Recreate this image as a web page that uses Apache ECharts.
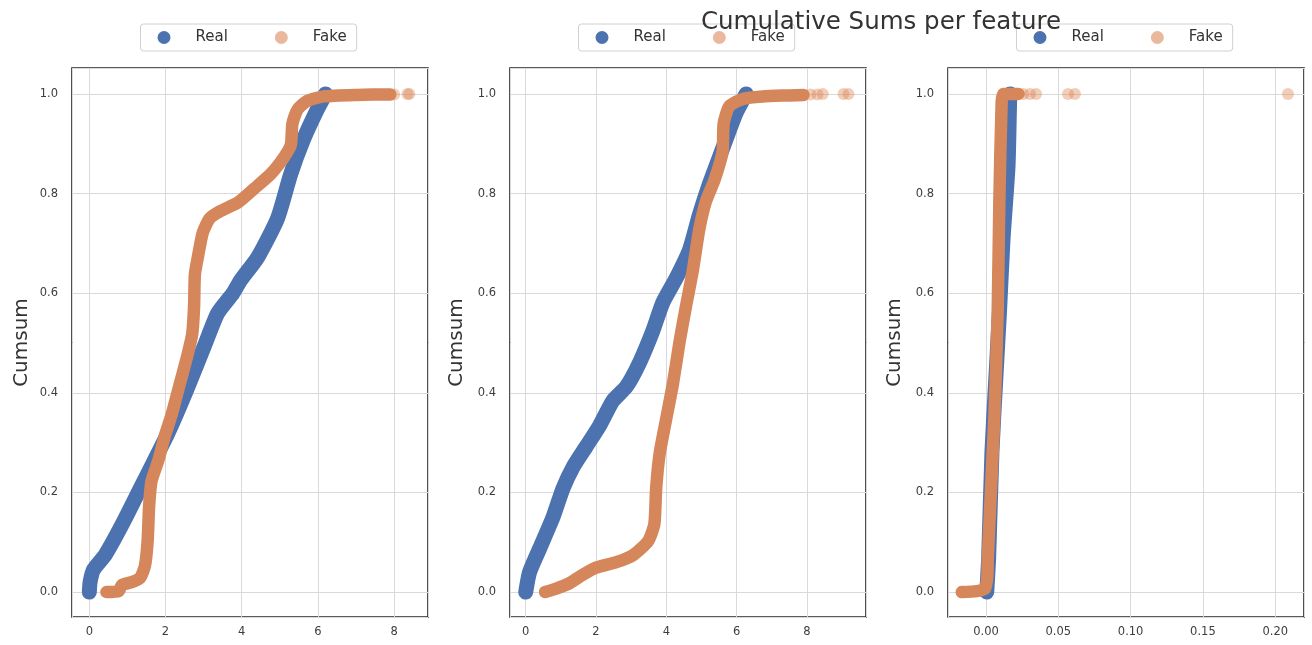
<!DOCTYPE html>
<html>
<head>
<meta charset="utf-8">
<script src="https://cdn.jsdelivr.net/npm/echarts@6/dist/echarts.min.js"></script>
<style>
html,body{margin:0;padding:0;background:#fff;}
#chart{width:1312px;height:645px;}
</style>
</head>
<body>
<div id="chart"></div>
<script>
// ---- data (x = feature value, y = normalised cumsum) ----
const titleText = 'Cumulative Sums per feature';
const seriesNames = ['Real', 'Fake'];
const yAxisName = 'Cumsum';

// Panel 1
const real1 = [[0.0,0.0],[0.02,0.02],[0.11,0.045],[0.42,0.075],[0.87,0.137],[1.35,0.21],[1.66,0.257],[2.07,0.32],[2.55,0.405],[3.03,0.496],[3.37,0.56],[3.77,0.6],[3.98,0.627],[4.42,0.672],[4.94,0.75],[5.29,0.84],[5.63,0.91],[5.98,0.968],[6.2,1.0]];
const fake1 = [[0.45,0.0],[0.77,0.002],[0.85,0.014],[1.11,0.02],[1.33,0.028],[1.46,0.053],[1.53,0.102],[1.57,0.173],[1.63,0.222],[1.81,0.264],[1.98,0.313],[2.16,0.356],[2.33,0.405],[2.55,0.468],[2.7,0.518],[2.75,0.574],[2.77,0.637],[2.85,0.673],[2.98,0.722],[3.16,0.75],[3.42,0.764],[3.9,0.782],[4.33,0.81],[4.77,0.84],[5.11,0.873],[5.29,0.898],[5.33,0.94],[5.46,0.968],[5.72,0.986],[6.16,0.995],[7.0,0.998],[7.9,0.999]];
const fakeTail1 = [[8.0,0.999],[8.35,1.0],[8.4,1.0]];

// Panel 2
const real2 = [[0.0,0.0],[0.11,0.04],[0.4,0.088],[0.78,0.151],[1.06,0.208],[1.34,0.25],[1.72,0.292],[2.1,0.334],[2.48,0.384],[2.86,0.412],[3.24,0.461],[3.62,0.525],[3.9,0.581],[4.28,0.63],[4.66,0.687],[4.94,0.757],[5.23,0.82],[5.6,0.89],[5.98,0.961],[6.27,1.0]];
const fake2 = [[0.55,0.0],[0.87,0.007],[1.25,0.018],[1.63,0.035],[2.0,0.049],[2.58,0.06],[3.05,0.074],[3.48,0.102],[3.66,0.137],[3.71,0.208],[3.81,0.278],[4.0,0.349],[4.19,0.419],[4.38,0.504],[4.56,0.574],[4.75,0.644],[4.94,0.729],[5.13,0.785],[5.37,0.827],[5.6,0.884],[5.63,0.94],[5.79,0.975],[6.17,0.99],[6.74,0.995],[7.5,0.997],[7.9,0.998]];
const fakeTail2 = [[8.1,0.999],[8.3,0.999],[8.45,1.0],[9.04,1.0],[9.18,1.0]];

// Panel 3
const real3 = [[0.0005,0.0],[0.0018,0.068],[0.0041,0.282],[0.0067,0.425],[0.0094,0.568],[0.0118,0.711],[0.0152,0.854],[0.0164,0.996],[0.0168,1.0]];
const fake3 = [[-0.0168,0.0],[-0.0065,0.002],[-0.0007,0.007],[0.0009,0.032],[0.0012,0.068],[0.0058,0.354],[0.0081,0.568],[0.0092,0.782],[0.0108,0.982],[0.012,1.0],[0.0224,1.0]];
const fakeTail3 = [[0.0258,1.0],[0.0304,1.0],[0.0346,1.0],[0.0567,1.0],[0.0615,1.0],[0.2088,1.0]];

// axis extents (matplotlib auto margins)
const xMins = [-0.455, -0.447, -0.0263];
const xMaxs = [8.89, 9.68, 0.2199];
const xDecimals = [0, 0, 2];
const yMin = -0.05, yMax = 1.052;

const reals = [real1, real2, real3];
const fakes = [fake1, fake2, fake3];
const tails = [fakeTail1, fakeTail2, fakeTail3];

// ---- styling / layout ----
const FONT = 'DejaVu Sans';
const BLUE = '#4c72b0';
const ORANGE = '#d5865a';
const ORANGE_A = 'rgba(221,132,82,0.5)';
const gridLefts = [72, 510, 948];
const gridW = 356, gridTop = 68, gridH = 549;
const nameGaps = [40, 43, 43];

const grids = [], xAxes = [], yAxes = [], series = [], legends = [];
for (let i = 0; i < 3; i++) {
  grids.push({left: gridLefts[i], top: gridTop, width: gridW, height: gridH,
    show: true, borderColor: '#262626', borderWidth: 1.6, backgroundColor: 'transparent'});
  const dec = xDecimals[i];
  xAxes.push({type: 'value', gridIndex: i, min: xMins[i], max: xMaxs[i], splitNumber: 5,
    axisLine: {show: false}, axisTick: {show: false},
    axisLabel: {show: true, margin: 9, color: '#3d3d3d', fontFamily: FONT, fontSize: 11.5,
      showMinLabel: false, showMaxLabel: false, formatter: v => v.toFixed(dec)},
    splitLine: {show: true, lineStyle: {color: '#d9d9d9', width: 1}}});
  yAxes.push({type: 'value', gridIndex: i, min: yMin, max: yMax, splitNumber: 5,
    name: yAxisName, nameLocation: 'middle', nameGap: nameGaps[i],
    nameTextStyle: {fontFamily: FONT, fontSize: 20, color: '#333'},
    axisLine: {show: false}, axisTick: {show: false},
    axisLabel: {show: true, margin: 14, color: '#3d3d3d', fontFamily: FONT, fontSize: 11.5,
      showMinLabel: false, showMaxLabel: false, formatter: v => v.toFixed(1)},
    splitLine: {show: true, lineStyle: {color: '#d9d9d9', width: 1}}});
  series.push({type: 'line', name: seriesNames[0], xAxisIndex: i, yAxisIndex: i, data: reals[i],
    showSymbol: false, symbol: 'none', z: 2, silent: true, smooth: 0.2,
    itemStyle: {color: BLUE},
    lineStyle: {color: BLUE, width: 15, cap: 'round', join: 'round'}});
  series.push({type: 'line', name: seriesNames[1], xAxisIndex: i, yAxisIndex: i, data: fakes[i],
    showSymbol: false, symbol: 'none', z: 3, silent: true, smooth: 0.2,
    itemStyle: {color: ORANGE},
    lineStyle: {color: ORANGE, width: 12.5, cap: 'round', join: 'round'}});
  series.push({type: 'scatter', name: seriesNames[1], xAxisIndex: i, yAxisIndex: i, data: tails[i],
    symbol: 'circle', symbolSize: 12, z: 3, silent: true,
    itemStyle: {color: ORANGE_A}});
  legends.push({left: gridLefts[i] + gridW / 2 - 109.5, top: 24, orient: 'horizontal',
    padding: [6, 10, 6, 17], itemGap: 47, itemWidth: 13, itemHeight: 13,
    borderColor: '#d0d0d0', borderWidth: 1, borderRadius: 3, backgroundColor: '#fff',
    selectedMode: false,
    textStyle: {fontFamily: FONT, fontSize: 15, color: '#333',
      rich: {g: {width: 20}}},
    formatter: name => '{g|}' + name,
    data: [
      {name: seriesNames[0], icon: 'circle', itemStyle: {color: BLUE, borderWidth: 0}},
      {name: seriesNames[1], icon: 'circle', itemStyle: {color: '#eab99d', borderWidth: 0}}
    ]});
}

const chart = echarts.init(document.getElementById('chart'), null, {renderer: 'canvas'});
chart.setOption({
  animation: false,
  backgroundColor: '#fff',
  grid: grids,
  xAxis: xAxes,
  yAxis: yAxes,
  legend: legends,
  series: series,
  graphic: [{type: 'text', x: 881, y: 23, z: 100,
    style: {text: titleText, fontFamily: FONT, fontSize: 24.5, fill: '#333',
      textAlign: 'center', textVerticalAlign: 'middle'}}]
});
</script>
</body>
</html>
